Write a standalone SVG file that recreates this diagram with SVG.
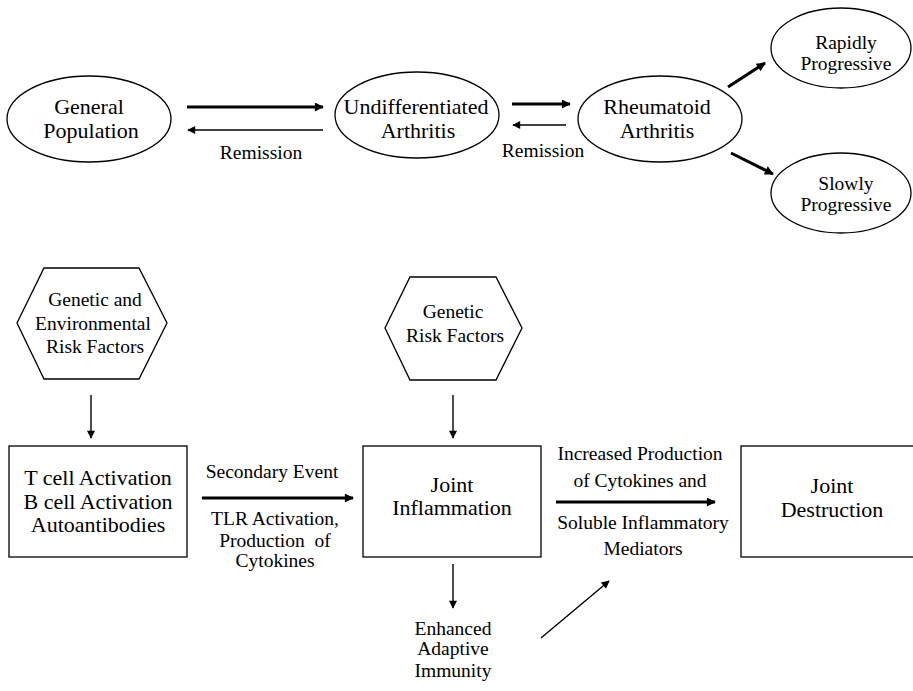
<svg xmlns="http://www.w3.org/2000/svg" width="913" height="691" viewBox="0 0 913 691" font-family="Liberation Serif, Times New Roman, serif">
<defs>
<style>
.shape{fill:#fff;stroke:#000;stroke-width:1.3}
.t{fill:#000;text-anchor:middle}
.big{font-size:22px}
.mid{font-size:19.5px}
.thick{stroke:#000;stroke-width:3;fill:none}
.thin{stroke:#000;stroke-width:1.4;fill:none}
</style>
<marker id="hb" viewBox="0 0 10 10" refX="9" refY="5" markerWidth="11" markerHeight="9" markerUnits="userSpaceOnUse" orient="auto"><path d="M0,0 L10,5 L0,10 z" fill="#000"/></marker>
<marker id="hs" viewBox="0 0 10 10" refX="9" refY="5" markerWidth="9" markerHeight="8" markerUnits="userSpaceOnUse" orient="auto"><path d="M0,0 L10,5 L0,10 z" fill="#000"/></marker>
</defs>
<rect width="913" height="691" fill="#fff"/>

<g id="connectors" font-family="Liberation Serif, serif">
<line class="thick" x1="187" y1="107" x2="323" y2="107" marker-end="url(#hb)"/>
<line class="thin" x1="323" y1="130" x2="188" y2="130" marker-end="url(#hs)"/>
<line class="thick" x1="512" y1="104" x2="570" y2="104" marker-end="url(#hb)"/>
<line class="thin" x1="566" y1="125" x2="513" y2="125" marker-end="url(#hs)"/>
<line class="thick" x1="728" y1="87" x2="765" y2="63" marker-end="url(#hb)"/>
<line class="thick" x1="731" y1="153" x2="773" y2="174" marker-end="url(#hb)"/>
<line class="thin" x1="91" y1="395" x2="91" y2="438" marker-end="url(#hs)"/>
<line class="thin" x1="453" y1="395" x2="453" y2="438" marker-end="url(#hs)"/>
<line class="thick" x1="202" y1="498" x2="353" y2="498" marker-end="url(#hb)"/>
<line class="thick" x1="556" y1="502" x2="715" y2="502" marker-end="url(#hb)"/>
<line class="thin" x1="453" y1="564" x2="453" y2="608" marker-end="url(#hs)"/>
<line class="thin" x1="541" y1="638" x2="609" y2="581" marker-end="url(#hs)"/>
<text class="t mid" x="261" y="159">Remission</text>
<text class="t mid" x="543" y="157">Remission</text>
<text class="t mid" x="272" y="478">Secondary Event</text>
<text class="t mid" x="275" y="525">TLR Activation,</text>
<text class="t mid" x="275" y="547" xml:space="preserve">Production  of</text>
<text class="t mid" x="275" y="567">Cytokines</text>
<text class="t mid" x="640" y="460">Increased Production</text>
<text class="t mid" x="640" y="487">of Cytokines and</text>
<text class="t mid" x="643" y="529">Soluble Inflammatory</text>
<text class="t mid" x="643" y="555">Mediators</text>
</g>

<g id="general-population">
<ellipse class="shape" cx="89" cy="119" rx="82" ry="43"/>
<text class="t big" x="89" y="114">General</text>
<text class="t big" x="91" y="138">Population</text>
</g>
<g id="undifferentiated-arthritis">
<ellipse class="shape" cx="417" cy="115" rx="82" ry="43"/>
<text class="t big" x="416" y="114">Undifferentiated</text>
<text class="t big" x="418" y="138">Arthritis</text>
</g>
<g id="rheumatoid-arthritis">
<ellipse class="shape" cx="660" cy="119" rx="82" ry="43"/>
<text class="t big" x="657" y="114">Rheumatoid</text>
<text class="t big" x="657" y="138">Arthritis</text>
</g>
<g id="rapidly-progressive">
<ellipse class="shape" cx="841" cy="48" rx="70" ry="40"/>
<text class="t mid" x="846" y="49">Rapidly</text>
<text class="t mid" x="846" y="70">Progressive</text>
</g>
<g id="slowly-progressive">
<ellipse class="shape" cx="841" cy="193" rx="70" ry="40"/>
<text class="t mid" x="846" y="190">Slowly</text>
<text class="t mid" x="846" y="211">Progressive</text>
</g>

<g id="genetic-environmental">
<polygon class="shape" points="44,268 139,268 167,323 139,379 44,379 17,323"/>
<text class="t mid" x="95" y="306">Genetic and</text>
<text class="t mid" x="93" y="330">Environmental</text>
<text class="t mid" x="95" y="353">Risk Factors</text>
</g>
<g id="genetic-risk">
<polygon class="shape" points="410,277 496,277 522,328 496,380 410,380 385,328"/>
<text class="t mid" x="453" y="318">Genetic</text>
<text class="t mid" x="455" y="342">Risk Factors</text>
</g>

<g id="activation">
<rect class="shape" x="9" y="446" width="178" height="111"/>
<text class="t big" x="98" y="485">T cell Activation</text>
<text class="t big" x="98" y="509">B cell Activation</text>
<text class="t big" x="98" y="532">Autoantibodies</text>
</g>
<g id="joint-inflammation">
<rect class="shape" x="363" y="446" width="178" height="111"/>
<text class="t big" x="452" y="492">Joint</text>
<text class="t big" x="452" y="515">Inflammation</text>
</g>
<g id="joint-destruction">
<rect class="shape" x="741" y="446" width="190" height="111"/>
<text class="t big" x="832" y="493">Joint</text>
<text class="t big" x="832" y="517">Destruction</text>
</g>
<g id="enhanced-adaptive-immunity">
<text class="t mid" x="453" y="635">Enhanced</text>
<text class="t mid" x="453" y="655">Adaptive</text>
<text class="t mid" x="453" y="677">Immunity</text>
</g>
</svg>
